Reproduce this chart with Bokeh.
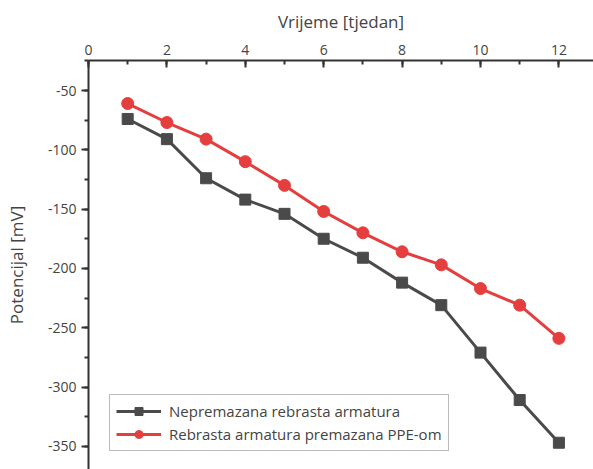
from bokeh.plotting import figure
from bokeh.models import SingleIntervalTicker, Range1d, Legend, LegendItem, NumeralTickFormatter
from bokeh.embed import file_html
from bokeh.resources import INLINE

weeks = [1, 2, 3, 4, 5, 6, 7, 8, 9, 10, 11, 12]
uncoated = [-74, -91, -124, -142, -154, -175, -191, -212, -231, -271, -311, -347]
coated = [-61, -77, -91, -110, -130, -152, -170, -186, -197, -217, -231, -259]
name_uncoated = "Nepremazana rebrasta armatura"
name_coated = "Rebrasta armatura premazana PPE-om"

FONT = "Open Sans"

W, H = 593, 469
LEFT, TOP = 88, 60
p = figure(width=W, height=H, output_backend="svg", toolbar_location=None,
           x_axis_location="above",
           x_range=Range1d(0, (W - LEFT) / 39.2),
           y_range=Range1d(-50 - (H - 90) / 1.186, -50 + (90 - TOP) / 1.186),
           min_border_left=LEFT, min_border_top=TOP, min_border_right=0, min_border_bottom=0)
p.outline_line_color = None
p.grid.visible = False
p.background_fill_color = "white"
p.border_fill_color = "white"

p.xaxis.ticker = SingleIntervalTicker(interval=2, num_minor_ticks=2)
p.yaxis.ticker = SingleIntervalTicker(interval=50, num_minor_ticks=2)
p.yaxis.formatter = NumeralTickFormatter(format="0")

for ax in p.xaxis:
    ax.major_tick_in = 7
    ax.major_tick_out = 0
    ax.minor_tick_in = 4
    ax.minor_tick_out = 0
for ax in p.yaxis:
    ax.major_tick_in = 0
    ax.major_tick_out = 7
    ax.minor_tick_in = 0
    ax.minor_tick_out = 4

for ax in p.xaxis + p.yaxis:
    ax.axis_line_width = 2
    ax.axis_line_color = "#333333"
    ax.major_tick_line_width = 2
    ax.major_tick_line_color = "#333333"
    ax.minor_tick_line_width = 2
    ax.minor_tick_line_color = "#333333"
    ax.major_label_text_font = FONT
    ax.major_label_text_font_size = "14px"
    ax.major_label_text_color = "#444444"
    ax.axis_label_text_font = FONT
    ax.axis_label_text_font_size = "17px"
    ax.axis_label_text_font_style = "normal"
    ax.axis_label_text_color = "#444444"

p.xaxis.axis_label = "Vrijeme [tjedan]"
p.yaxis.axis_label = "Potencijal [mV]"
p.xaxis.major_label_standoff = 6
p.xaxis.axis_label_standoff = 9
p.yaxis.major_label_standoff = 5
p.yaxis.axis_label_standoff = 17

gray = "#4a4a4a"
red = "#e53e3e"

l1 = p.line(weeks, uncoated, line_color=gray, line_width=3)
m1 = p.scatter(weeks, uncoated, marker="square", size=11, fill_color=gray, line_color=gray)
l2 = p.line(weeks, coated, line_color=red, line_width=3)
m2 = p.scatter(weeks, coated, marker="circle", size=12, fill_color=red, line_color=red)

legend = Legend(items=[LegendItem(label=name_uncoated, renderers=[l1, m1]),
                       LegendItem(label=name_coated, renderers=[l2, m2])],
                location=(21, H - 451))
legend.label_text_font = FONT
legend.label_text_font_size = "15px"
legend.label_text_color = "#444444"
legend.border_line_color = "#777777"
legend.border_line_width = 1
legend.glyph_width = 45
legend.glyph_height = 20
legend.label_height = 20
legend.spacing = 3
legend.padding = 6
legend.margin = 0
legend.label_standoff = 8
p.add_layout(legend, "center")

open("out.html", "w").write(file_html(p, INLINE))
